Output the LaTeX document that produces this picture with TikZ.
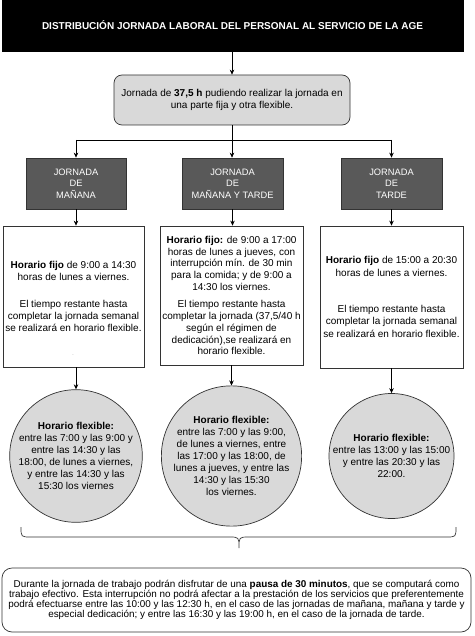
\documentclass[tikz,border=0pt]{standalone}
\usepackage{fontspec}
\setmainfont{Liberation Sans}
\usetikzlibrary{arrows.meta}
\definecolor{lgray}{HTML}{D9D9D9}
\definecolor{dgray}{HTML}{595959}
\definecolor{bord}{HTML}{333333}
\begin{document}
\begin{tikzpicture}[x=1pt,y=-1pt,
  base/.style={inner sep=0pt, align=center, font=\fontsize{10}{12}\selectfont},
  titlebox/.style={base, fill=black, draw=black, text=white, font=\fontsize{10}{12}\selectfont\bfseries},
  jbox/.style={base, fill=lgray, draw=bord, rounded corners=8pt, line width=0.7pt},
  gbox/.style={base, fill=dgray, draw=bord, text=white, line width=0.7pt, font=\fontsize{9.3}{11.5}\selectfont},
  wbox/.style={base, fill=white, draw=bord, line width=0.7pt},
  circ/.style={base, circle, fill=lgray, draw=bord, line width=0.7pt, font=\fontsize{10}{12}\selectfont},
  bbox/.style={base, fill=white, draw=bord, rounded corners=10pt, line width=0.7pt, font=\fontsize{9.9}{10}\selectfont},
  arr/.style={-{Stealth[length=5pt,width=4.5pt]}, line width=0.7pt, black},
  conn/.style={line width=0.7pt, black}]
\useasboundingbox (0,0) rectangle (474,636);
\fill[white] (0,0) rectangle (474,636);

\node[titlebox, minimum width=461, minimum height=51] (t) at (232.5,25.5)
  {DISTRIBUCIÓN JORNADA LABORAL DEL PERSONAL AL SERVICIO DE LA AGE};

\node[jbox, minimum width=236, minimum height=50] (j) at (232,100)
  {Jornada de \textbf{37,5 h} pudiendo realizar la jornada en\\una parte fija y otra flexible.};

\node[gbox, minimum width=100, minimum height=51] (g1) at (76,183.5) {JORNADA\\DE\\MAÑANA};
\node[gbox, minimum width=101, minimum height=51] (g2) at (232.5,183.5) {JORNADA\\DE\\MAÑANA Y TARDE};
\node[gbox, minimum width=101, minimum height=51] (g3) at (391.5,183.5) {JORNADA\\DE\\TARDE};

\node[wbox, minimum width=141, minimum height=141, font=\fontsize{10}{12.3}\selectfont] (w1) at (73.5,296.5)
  {\textbf{Horario fijo} de 9:00 a 14:30\\horas de lunes a viernes.\\[14pt]El tiempo restante hasta\\completar la jornada semanal\\se realizará en horario flexible.};
\node[base, font=\fontsize{5}{6}\selectfont, text=gray] (dot) at (73,355) {.};
\node[wbox, minimum width=143, minimum height=139, font=\fontsize{10}{11.7}\selectfont] (w2) at (231.5,295.5)
  {\textbf{Horario fijo:} de 9:00 a 17:00\\horas de lunes a jueves, con\\interrupción mín. de 30 min\\para la comida; y de 9:00 a\\14:30 los viernes.\\[6pt]El tiempo restante hasta\\completar la jornada (37,5/40 h\\según el régimen de\\dedicación),se realizará en\\horario flexible.};
\node[wbox, minimum width=143, minimum height=142, font=\fontsize{10}{12.3}\selectfont] (w3) at (391.5,297)
  {\textbf{Horario fijo} de 15:00 a 20:30\\horas de lunes a viernes.\\[24pt]El tiempo restante hasta\\completar la jornada semanal\\se realizará en horario flexible.};

\node[circ, minimum size=126] (c1) at (76,456)
  {\textbf{Horario flexible:}\\entre las 7:00 y las 9:00 y\\entre las 14:30 y las\\18:00, de lunes a viernes,\\y entre las 14:30 y las\\15:30 los viernes};
\node[circ, minimum size=125] (c2) at (231.5,456)
  {\textbf{Horario flexible:}\\entre las 7:00 y las 9:00,\\de lunes a viernes, entre\\las 17:00 y las 18:00, de\\lunes a jueves, y entre las\\14:30 y las 15:30\\los viernes.};
\node[circ, minimum size=125] (c3) at (391.5,456)
  {\textbf{Horario flexible:}\\entre las 13:00 y las 15:00\\y entre las 20:30 y las\\22:00.};

\node[bbox, minimum width=469, minimum height=64] (b) at (236.5,600)
  {Durante la jornada de trabajo podrán disfrutar de una \textbf{pausa de 30 minutos}, que se computará como\\trabajo efectivo. Esta interrupción no podrá afectar a la prestación de los servicios que preferentemente\\podrá efectuarse entre las 10:00 y las 12:30 h, en el caso de las jornadas de mañana, mañana y tarde y\\especial dedicación; y entre las 16:30 y las 19:00 h, en el caso de la jornada de tarde.};

% connectors
\draw[arr] (t.south -| j.north) -- (j.north);
\coordinate (h1) at (76,140);
\coordinate (h3) at (391.5,140);
\draw[conn] (h1) -- (h3);
\draw[arr] (j.south) -- (j.south |- g2.north);
\draw[arr] (h1) -- (g1.north);
\draw[arr] (h3) -- (g3.north);
\draw[arr] (g1.south) -- (g1.south |- w1.north);
\draw[arr] (g2.south) -- (g2.south |- w2.north);
\draw[arr] (g3.south) -- (g3.south |- w3.north);
\draw[arr] (c1.north |- w1.south) -- (c1.north);
\draw[arr] (c2.north |- w2.south) -- (c2.north);
\draw[arr] (c3.north |- w3.south) -- (c3.north);

% brace
\draw[line width=0.7pt, bord] (21,527) .. controls (21,537) .. (31,537) -- (229,537)
  .. controls (239,537) .. (239,548) .. controls (239,537) .. (249,537) -- (446,537)
  .. controls (456,537) .. (456,527);
\end{tikzpicture}
\end{document}
